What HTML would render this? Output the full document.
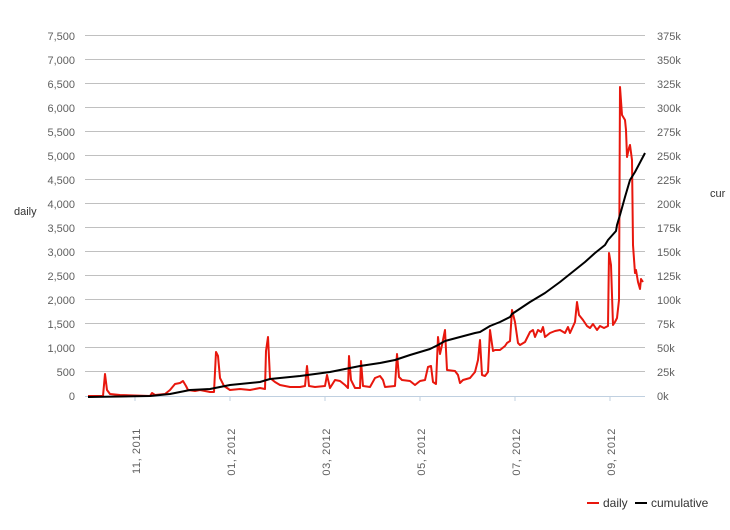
<!DOCTYPE html>
<html><head><style>body{margin:0;background:#fff}svg{font-family:"Liberation Sans",sans-serif}</style></head><body>
<svg width="730" height="525" xmlns="http://www.w3.org/2000/svg">
<g stroke="#c0c0c0" stroke-width="1">
<line x1="85" x2="645" y1="35.5" y2="35.5"/><line x1="85" x2="645" y1="59.5" y2="59.5"/><line x1="85" x2="645" y1="83.5" y2="83.5"/><line x1="85" x2="645" y1="107.5" y2="107.5"/><line x1="85" x2="645" y1="131.5" y2="131.5"/><line x1="85" x2="645" y1="155.5" y2="155.5"/><line x1="85" x2="645" y1="179.5" y2="179.5"/><line x1="85" x2="645" y1="203.5" y2="203.5"/><line x1="85" x2="645" y1="227.5" y2="227.5"/><line x1="85" x2="645" y1="251.5" y2="251.5"/><line x1="85" x2="645" y1="275.5" y2="275.5"/><line x1="85" x2="645" y1="299.5" y2="299.5"/><line x1="85" x2="645" y1="323.5" y2="323.5"/><line x1="85" x2="645" y1="347.5" y2="347.5"/><line x1="85" x2="645" y1="371.5" y2="371.5"/>
</g>
<line x1="85" x2="645" y1="396.5" y2="396.5" stroke="#c0d0e0"/>
<g stroke="#c0d0e0"><line x1="135" x2="135" y1="396" y2="401"/><line x1="230" x2="230" y1="396" y2="401"/><line x1="325" x2="325" y1="396" y2="401"/><line x1="420" x2="420" y1="396" y2="401"/><line x1="515" x2="515" y1="396" y2="401"/><line x1="610" x2="610" y1="396" y2="401"/></g>
<g font-size="11" fill="#606060" text-anchor="end">
<text x="75" y="40">7,500</text><text x="75" y="64">7,000</text><text x="75" y="88">6,500</text><text x="75" y="112">6,000</text><text x="75" y="136">5,500</text><text x="75" y="160">5,000</text><text x="75" y="184">4,500</text><text x="75" y="208">4,000</text><text x="75" y="232">3,500</text><text x="75" y="256">3,000</text><text x="75" y="280">2,500</text><text x="75" y="304">2,000</text><text x="75" y="328">1,500</text><text x="75" y="352">1,000</text><text x="75" y="376">500</text><text x="75" y="400">0</text>
</g>
<g font-size="11" fill="#606060" text-anchor="start">
<text x="657" y="40">375k</text><text x="657" y="64">350k</text><text x="657" y="88">325k</text><text x="657" y="112">300k</text><text x="657" y="136">275k</text><text x="657" y="160">250k</text><text x="657" y="184">225k</text><text x="657" y="208">200k</text><text x="657" y="232">175k</text><text x="657" y="256">150k</text><text x="657" y="280">125k</text><text x="657" y="304">100k</text><text x="657" y="328">75k</text><text x="657" y="352">50k</text><text x="657" y="376">25k</text><text x="657" y="400">0k</text>
</g>
<g font-size="11" fill="#606060" text-anchor="end" letter-spacing="0.6">
<text transform="translate(140,428) rotate(-90)">11, 2011</text>
<text transform="translate(235,428) rotate(-90)">01, 2012</text>
<text transform="translate(330,428) rotate(-90)">03, 2012</text>
<text transform="translate(425,428) rotate(-90)">05, 2012</text>
<text transform="translate(520,428) rotate(-90)">07, 2012</text>
<text transform="translate(615,428) rotate(-90)">09, 2012</text>
</g>
<text x="14" y="215" font-size="11" fill="#333">daily</text>
<text x="710" y="197" font-size="11" fill="#333">cur</text>
<polyline fill="none" stroke="#e8170d" stroke-width="2" stroke-linejoin="round" points="88,396 103,396 105,374 107,390 110,394 120,395 150,396 152,393 155,395 165,394 170,390 175,384 180,383 183,381 186,386 188,390 195,391 200,390 210,392 214,392 216,352 218,356 220,378 224,386 230,390 240,389 250,390 260,388 265,389 266,351 268,337 270,378 275,382 280,385 290,387 300,387 305,386 307,366 309,386 315,387 325,386 327,375 330,388 335,380 340,381 345,385 348,388 349,356 351,380 355,388 360,388 361,361 363,386 370,387 375,378 380,376 383,380 385,387 395,386 397,354 399,377 402,380 410,381 415,385 420,381 425,380 428,367 431,366 433,382 436,384 438,337 440,354 442,345 445,330 447,370 455,371 458,375 460,383 463,380 470,378 475,372 478,360 480,340 482,375 485,376 488,372 490,330 493,351 495,350 500,350 505,346 507,343 510,341 512,310 515,322 518,343 520,345 525,342 528,336 530,332 533,330 535,337 538,330 541,332 543,327 545,337 550,333 555,331 560,330 565,333 568,327 570,333 575,322 577,302 579,315 583,320 587,326 590,328 593,324 597,330 600,326 604,328 608,326 609,253 611,265 613,325 615,322 617,318 619,300 620,87 622,115 625,120 626,130 627,157 629,148 630,145 632,160 633,245 635,273 636,270 638,282 640,289 641,279 643,282"/>
<polyline fill="none" stroke="#000" stroke-width="2" stroke-linejoin="round" points="88,397 150,396 170,394 190,390 210,389 220,387 230,385 260,382 270,379 300,376 330,372 360,366 380,363 395,360 410,355 430,349 438,345 445,341 460,337 475,333 480,332 490,326 500,322 510,317 512,314 530,302 545,293 560,282 575,270 585,262 595,253 605,245 608,240 616,231 617,225 620,215 625,197 630,180 635,172 645,153"/>
<line x1="587" x2="599" y1="503" y2="503" stroke="#e8170d" stroke-width="2"/>
<text x="603" y="507" font-size="12" fill="#333">daily</text>
<line x1="635" x2="647" y1="503" y2="503" stroke="#000" stroke-width="2"/>
<text x="651" y="507" font-size="12" fill="#333">cumulative</text>
</svg>
</body></html>
